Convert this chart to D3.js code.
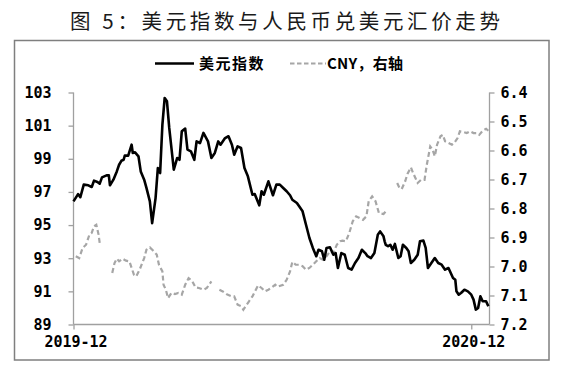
<!DOCTYPE html>
<html>
<head>
<meta charset="utf-8">
<script src="https://cdn.jsdelivr.net/npm/d3@7"></script>
<style>
  html, body { margin: 0; padding: 0; background: #fff; }
  svg { display: block; }
</style>
</head>
<body>
<svg id="chart" width="565" height="372"></svg>
<script>
// ---------- data ----------
const titleText = "图 5：美元指数与人民币兑美元汇价走势";
const seriesNames = ["美元指数", "CNY，右轴"];

const dxyDates = [
  "2019-12-31","2020-01-04","2020-01-06","2020-01-09","2020-01-13","2020-01-16","2020-01-18","2020-01-21",
  "2020-01-23","2020-01-25","2020-01-29","2020-01-31","2020-02-01","2020-02-04","2020-02-07","2020-02-09",
  "2020-02-11","2020-02-13","2020-02-14","2020-02-17","2020-02-20","2020-02-21","2020-02-23","2020-02-26",
  "2020-02-28","2020-03-02","2020-03-04","2020-03-07","2020-03-09","2020-03-12","2020-03-14","2020-03-16",
  "2020-03-18","2020-03-20","2020-03-22","2020-03-24","2020-03-28","2020-03-31","2020-04-02","2020-04-04",
  "2020-04-07","2020-04-09","2020-04-12","2020-04-15","2020-04-17","2020-04-20","2020-04-23","2020-04-27",
  "2020-04-30","2020-05-03","2020-05-06","2020-05-08","2020-05-12","2020-05-15","2020-05-18","2020-05-20",
  "2020-05-23","2020-05-26","2020-05-29","2020-06-01","2020-06-05","2020-06-07","2020-06-11","2020-06-13",
  "2020-06-15","2020-06-19","2020-06-23","2020-06-26","2020-06-29","2020-07-02","2020-07-05","2020-07-08",
  "2020-07-10","2020-07-14","2020-07-16","2020-07-19","2020-07-22","2020-07-25","2020-07-28","2020-07-31",
  "2020-08-02","2020-08-05","2020-08-07","2020-08-09","2020-08-12","2020-08-15","2020-08-17","2020-08-19",
  "2020-08-22","2020-08-25","2020-08-28","2020-08-31","2020-09-03","2020-09-06","2020-09-09","2020-09-12",
  "2020-09-14","2020-09-17","2020-09-20","2020-09-23","2020-09-25","2020-09-28","2020-09-29","2020-09-30",
  "2020-10-02","2020-10-04","2020-10-06","2020-10-08","2020-10-11","2020-10-13","2020-10-15","2020-10-18",
  "2020-10-20","2020-10-22","2020-10-25","2020-10-28","2020-10-30","2020-11-02","2020-11-04","2020-11-06",
  "2020-11-09","2020-11-12","2020-11-15","2020-11-18","2020-11-21","2020-11-24","2020-11-26","2020-11-28",
  "2020-11-30","2020-12-01","2020-12-03","2020-12-05","2020-12-08","2020-12-11","2020-12-14","2020-12-16",
  "2020-12-18","2020-12-20","2020-12-22","2020-12-24","2020-12-27","2020-12-29"
];
const dxyValues = [
  96.43,96.87,96.68,97.44,97.40,97.30,97.68,97.60,
  97.50,97.88,98.00,98.00,97.40,97.74,98.24,98.64,
  98.88,98.94,99.19,99.19,99.85,99.35,99.39,99.15,
  98.24,97.74,97.24,96.43,95.12,96.63,98.44,98.14,
  101.06,102.67,102.47,100.86,98.34,99.05,98.94,100.66,
  100.82,99.55,99.45,98.94,100.05,99.95,100.56,100.05,
  99.05,99.35,100.05,99.85,100.25,100.36,99.85,99.25,
  99.75,99.65,98.44,97.94,96.83,96.87,96.19,97.04,
  96.83,97.64,96.80,97.44,97.44,97.24,97.04,96.80,
  96.53,96.33,96.13,95.83,95.02,94.22,93.62,93.12,
  93.51,93.42,92.91,93.62,93.66,93.21,93.31,92.41,
  93.31,93.21,92.41,92.31,92.71,93.01,93.51,93.31,
  93.12,93.01,93.31,94.42,94.62,94.32,94.02,93.81,
  93.72,93.81,93.51,93.86,93.01,93.12,93.81,93.62,
  93.42,92.71,92.91,93.21,94.02,94.06,93.62,92.41,
  92.71,93.01,92.71,92.61,92.31,92.41,92.11,91.81,
  91.70,91.00,90.80,90.90,91.10,91.00,90.80,90.50,
  89.90,90.00,90.70,90.40,90.40,90.10
];

// null = market closed (holiday gap)
const cnyDates = [
  "2020-01-02","2020-01-05","2020-01-08","2020-01-11","2020-01-14","2020-01-16","2020-01-18","2020-01-20",
  "2020-01-22","2020-01-23","2020-01-28","2020-02-03","2020-02-05","2020-02-07","2020-02-09","2020-02-12",
  "2020-02-15","2020-02-18","2020-02-20","2020-02-22","2020-02-24","2020-02-27","2020-03-02","2020-03-04",
  "2020-03-07","2020-03-10","2020-03-13","2020-03-15","2020-03-18","2020-03-19","2020-03-21","2020-03-23",
  "2020-03-26","2020-03-29","2020-04-01","2020-04-04","2020-04-07","2020-04-10","2020-04-13","2020-04-16",
  "2020-04-19","2020-04-23","2020-04-26","2020-04-30","2020-05-03","2020-05-07","2020-05-10","2020-05-14",
  "2020-05-18","2020-05-20","2020-05-23","2020-05-26","2020-05-28","2020-05-30","2020-06-02","2020-06-05",
  "2020-06-08","2020-06-10","2020-06-13","2020-06-16","2020-06-19","2020-06-22","2020-06-25","2020-06-27",
  "2020-07-02","2020-07-05","2020-07-08","2020-07-10","2020-07-13","2020-07-16","2020-07-19","2020-07-22",
  "2020-07-25","2020-07-28","2020-07-31","2020-08-03","2020-08-06","2020-08-09","2020-08-12","2020-08-15",
  "2020-08-18","2020-08-21","2020-08-23","2020-08-26","2020-08-29","2020-09-01","2020-09-04","2020-09-07",
  "2020-09-10","2020-09-13","2020-09-15","2020-09-18","2020-09-21","2020-09-24","2020-09-28","2020-09-30",
  "2020-10-05","2020-10-10","2020-10-12","2020-10-14","2020-10-17","2020-10-19","2020-10-22","2020-10-24",
  "2020-10-26","2020-10-28","2020-10-31","2020-11-03","2020-11-05","2020-11-08","2020-11-10","2020-11-12",
  "2020-11-14","2020-11-17","2020-11-19","2020-11-21","2020-11-24","2020-11-27","2020-11-29","2020-12-02",
  "2020-12-04","2020-12-07","2020-12-10","2020-12-13","2020-12-16","2020-12-19","2020-12-21","2020-12-24",
  "2020-12-27","2020-12-29"
];
const cnyValues = [
  6.965,6.971,6.936,6.925,6.890,6.884,6.861,6.856,
  6.890,6.919,null,7.022,6.988,6.973,6.982,6.973,
  6.980,6.982,7.005,7.028,7.034,7.011,6.971,6.942,
  6.934,6.946,6.959,6.994,7.017,7.063,7.080,7.109,
  7.091,7.095,7.091,7.097,7.063,7.040,7.049,7.072,
  7.074,7.080,7.074,7.051,null,7.080,7.086,7.097,
  7.103,7.103,7.132,7.137,7.149,7.137,7.120,7.103,
  7.080,7.065,7.074,7.086,7.080,7.072,7.063,7.070,
  7.063,7.046,7.017,6.984,6.994,6.994,6.999,7.011,
  7.005,6.994,6.982,6.971,6.977,6.965,6.948,6.953,
  6.925,6.913,6.911,6.913,6.884,6.844,6.827,6.833,
  6.839,6.827,6.775,6.758,6.775,6.816,6.819,6.810,
  null,6.712,6.729,6.733,6.706,6.681,6.658,6.678,
  6.695,6.712,6.701,6.701,6.649,6.586,6.597,6.620,
  6.580,6.551,6.546,6.568,6.574,6.580,6.574,6.557,
  6.534,6.536,6.540,6.534,6.540,6.540,6.546,6.532,
  6.525,6.532
];

const xDomain = ["2019-12-31", "2020-12-30"];
const xTickDates = ["2019-12-31", "2020-12-14"];
const xTickLabels = ["2019-12", "2020-12"];
const leftTicks = [89, 91, 93, 95, 97, 99, 101, 103];
const rightTicks = [6.4, 6.5, 6.6, 6.7, 6.8, 6.9, 7.0, 7.1, 7.2];

// ---------- layout ----------
const svg = d3.select("#chart");
const parse = d3.timeParse("%Y-%m-%d");
const plot = { left: 73.5, right: 489.5, top: 92.5, bottom: 324.5 };

const x = d3.scaleTime().domain(xDomain.map(parse)).range([plot.left, plot.right]);
const yL = d3.scaleLinear().domain([89, 103]).range([plot.bottom, plot.top]);
const yR = d3.scaleLinear().domain([6.4, 7.2]).range([plot.top, plot.bottom]);

// frame
svg.append("rect")
  .attr("x", 14.5).attr("y", 40.5).attr("width", 534.5).attr("height", 319.5)
  .attr("fill", "none").attr("stroke", "#7f7f7f").attr("stroke-width", 1.5);

// title
svg.append("text")
  .attr("x", 70).attr("y", 29)
  .attr("textLength", 430).attr("lengthAdjust", "spacing")
  .attr("font-family", "'Noto Sans CJK SC', sans-serif")
  .attr("font-size", 20.5).attr("fill", "#1a1a1a")
  .text(titleText);

// legend
const lg = svg.append("g");
lg.append("line").attr("x1", 155).attr("x2", 194).attr("y1", 63.5).attr("y2", 63.5)
  .attr("stroke", "#000").attr("stroke-width", 2.5);
lg.append("text").attr("x", 199).attr("y", 69)
  .attr("font-family", "'Noto Sans CJK SC', sans-serif").attr("font-weight", "bold")
  .attr("font-size", 15).attr("letter-spacing", 1.5).attr("fill", "#000")
  .text(seriesNames[0]);
lg.append("line").attr("x1", 290).attr("x2", 326).attr("y1", 63.5).attr("y2", 63.5)
  .attr("stroke", "#a6a6a6").attr("stroke-width", 2).attr("stroke-dasharray", "4.5,2.5");
lg.append("text").attr("x", 327).attr("y", 69)
  .attr("textLength", 76).attr("lengthAdjust", "spacing")
  .attr("font-family", "'Noto Sans CJK SC', sans-serif").attr("font-weight", "bold")
  .attr("font-size", 15).attr("fill", "#000")
  .text(seriesNames[1]);

// axes
const axisColor = "#a0a0a0";
const tickFont = "'DejaVu Sans Mono', monospace";

const gL = svg.append("g").attr("transform", `translate(${plot.left},0)`)
  .call(d3.axisLeft(yL).tickValues(leftTicks).tickSize(5).tickPadding(17).tickFormat(d3.format("d")));
const gR = svg.append("g").attr("transform", `translate(${plot.right},0)`)
  .call(d3.axisRight(yR).tickValues(rightTicks).tickSize(5).tickPadding(6).tickFormat(d3.format(".1f")));
const gB = svg.append("g").attr("transform", `translate(0,${plot.bottom})`)
  .call(d3.axisBottom(x).tickValues(xTickDates.map(parse)).tickSize(5).tickPadding(7)
    .tickFormat((d, i) => xTickLabels[i]));

[gL, gR, gB].forEach(g => {
  g.select(".domain").attr("stroke", axisColor).attr("stroke-width", 1.3);
  g.selectAll(".tick line").attr("stroke", axisColor).attr("stroke-width", 1.3);
  g.selectAll(".tick text").attr("fill", "#000").attr("font-family", tickFont)
    .attr("font-weight", "bold").attr("font-size", 15);
});
gB.selectAll(".tick text").attr("dx", 2);
gB.select(".domain").attr("d", `M${plot.left},0H${plot.right}`);
gL.select(".domain").attr("d", `M0,${plot.top}V${plot.bottom}`);
gR.select(".domain").attr("d", `M0,${plot.top}V${plot.bottom}`);

// series
const dxy = dxyDates.map((d, i) => ({ date: parse(d), v: dxyValues[i] }));
const cny = cnyDates.map((d, i) => ({ date: parse(d), v: cnyValues[i] }));

svg.append("path").datum(cny)
  .attr("fill", "none").attr("stroke", "#a6a6a6").attr("stroke-width", 2.2)
  .attr("stroke-dasharray", "5,3")
  .attr("d", d3.line().defined(d => d.v !== null).x(d => x(d.date)).y(d => yR(d.v)));

svg.append("path").datum(dxy)
  .attr("fill", "none").attr("stroke", "#000").attr("stroke-width", 2.6)
  .attr("stroke-linejoin", "round")
  .attr("d", d3.line().x(d => x(d.date)).y(d => yL(d.v)));
</script>
</body>
</html>
